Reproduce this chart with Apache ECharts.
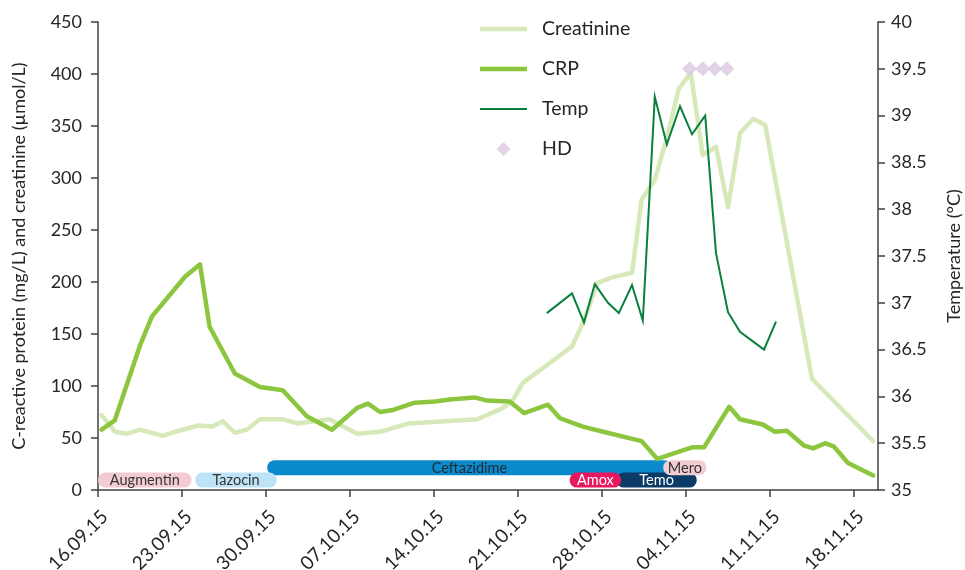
<!DOCTYPE html>
<html><head><meta charset="utf-8">
<script src="https://cdn.jsdelivr.net/npm/echarts@6/dist/echarts.min.js"></script>
<style>html,body{margin:0;padding:0;background:#fff}#c{width:965px;height:570px}</style>
</head><body><div id="c"></div>
<script>
// x = days since 16.09.15
const tickDays = [0, 7, 14, 21, 28, 35, 42, 49, 56, 63];
const tickLabels = ['16.09.15','23.09.15','30.09.15','07.10.15','14.10.15','21.10.15','28.10.15','04.11.15','11.11.15','18.11.15'];

const creatinineDays = [0.3,1.4,2.4,3.5,5.4,6.4,8.4,9.5,10.4,11.4,12.4,13.5,15.4,16.6,19.3,21.6,23.5,25.9,31.6,33.6,34.5,35.4,39.5,40.5,41.6,42.7,44.5,45.3,46.4,47.5,48.4,49.4,50.4,51.5,52.5,53.5,54.6,55.6,59.5,64.6];
const creatinineValues = [72,56,54,58,52,56,62,61,66,55,58,68,68,64,68,54,56,64,68,78,85,103,138,163,199,204,209,279,298,343,386,401,322,330,272,343,357,351,107,47];

const crpDays = [0.3,1.4,3.5,4.5,7.25,8.5,9.3,11.4,13.5,15.4,17.4,19.5,21.6,22.5,23.5,24.6,26.4,28.1,29.3,31.4,32.4,34.3,35.5,37.5,38.5,40.4,42.1,45.3,46.6,49.5,50.5,52.6,53.5,55.4,56.4,57.4,58.8,59.6,60.6,61.3,62.5,64.6];
const crpValues = [58,67,139,167,205,217,157,112,99,96,71,58,79,83,75,77,84,85,87,89,86,85,74,82,69,61,56,47,30,41,41,80,68,63,56,57,43,40,45,42,26,14];

const tempDays = [37.4,39.5,40.5,41.4,42.5,43.4,44.5,45.4,46.4,47.4,48.5,49.5,50.6,51.5,52.5,53.5,55.5,56.5];
const tempValues = [36.89,37.1,36.79,37.2,37.0,36.89,37.19,36.81,39.2,38.69,39.1,38.8,39.0,37.53,36.9,36.69,36.5,36.8];

const hdDays = [49.3, 50.4, 51.4, 52.4];
const hdValues = [39.5, 39.5, 39.5, 39.5];

// antibiotic courses (draw order: later on top)
const drugNames = ['Ceftazidime','Augmentin','Tazocin','Temo','Amox','Mero'];
const drugStart = [14.1, 0.0, 8.1, 43.2, 39.3, 47.1];
const drugEnd   = [47.8, 7.8, 14.9, 49.9, 43.6, 50.7];
const drugLane  = [1, 0, 0, 0, 0, 1];

// styling
const drugFill = {Ceftazidime:'#0A8ACB', Augmentin:'#F3CCD3', Tazocin:'#BEE3F6', Temo:'#0B3B66', Amox:'#E8185F', Mero:'#F3CCD3'};
const drugText = {Ceftazidime:'#1f2a33', Augmentin:'#333333', Tazocin:'#333333', Temo:'#ffffff', Amox:'#ffffff', Mero:'#333333'};
const laneY = [9.5, 21.5];
const laneH = 15;

const FONT = 'Lato, "Open Sans", sans-serif';
const TXT = '#262626';
const AX = '#404040';

const zip = (a, b) => a.map((v, i) => [v, b[i]]);

const chart = echarts.init(document.getElementById('c'), null, {renderer: 'canvas'});
chart.setOption({
  backgroundColor: '#ffffff',
  animation: false,
  textStyle: {fontFamily: FONT},
  grid: {left: 98, right: 87, top: 22, bottom: 80, outerBoundsMode: 'none', containLabel: false},
  legend: {
    orient: 'vertical', left: 475, top: 14,
    itemWidth: 47, itemHeight: 14, itemGap: 20,
    textStyle: {fontSize: 19.5, color: TXT, fontFamily: FONT, padding: [0, 0, 0, 10]},
    data: [
      {name: 'Creatinine', icon: 'path://M0,0L47,0L47,4.5L0,4.5Z'},
      {name: 'CRP', icon: 'path://M0,0L47,0L47,4.5L0,4.5Z'},
      {name: 'Temp', icon: 'path://M0,0L47,0L47,2L0,2Z'},
      {name: 'HD', icon: 'path://M6,0L12,6L6,12L0,6Z'}
    ]
  },
  xAxis: {
    type: 'value', min: 0, max: 65, interval: 7,
    splitLine: {show: false},
    axisLine: {lineStyle: {color: AX, width: 1.5}},
    axisTick: {show: true, length: 7, lineStyle: {color: AX, width: 1.5}, customValues: tickDays},
    axisLabel: {
      customValues: tickDays, rotate: 45, margin: 17, align: 'right', verticalAlign: 'top',
      fontSize: 19, color: TXT, fontFamily: FONT,
      formatter: v => { const i = tickDays.indexOf(Math.round(v)); return i >= 0 ? tickLabels[i] : ''; }
    }
  },
  yAxis: [
    {
      type: 'value', min: 0, max: 450, interval: 50, position: 'left',
      name: 'C-reactive protein (mg/L) and creatinine (µmol/L)',
      nameLocation: 'middle', nameGap: 70, nameRotate: 90,
      nameTextStyle: {fontSize: 18, color: TXT, fontFamily: FONT},
      splitLine: {show: false},
      axisLine: {show: true, lineStyle: {color: AX, width: 1.5}},
      axisTick: {show: true, length: 7, lineStyle: {color: AX, width: 1.5}},
      axisLabel: {margin: 16, fontSize: 18, color: TXT, fontFamily: FONT}
    },
    {
      type: 'value', min: 35, max: 40, interval: 0.5, position: 'right',
      name: 'Temperature (°C)',
      nameLocation: 'middle', nameGap: 67, nameRotate: 90,
      nameTextStyle: {fontSize: 18, color: TXT, fontFamily: FONT},
      splitLine: {show: false},
      axisLine: {show: true, lineStyle: {color: AX, width: 1.5}},
      axisTick: {show: true, length: 7, lineStyle: {color: AX, width: 1.5}},
      axisLabel: {margin: 13, fontSize: 18, color: TXT, fontFamily: FONT}
    }
  ],
  series: [
    {
      type: 'custom', name: 'drugs', xAxisIndex: 0, yAxisIndex: 0, z: 1,
      data: drugNames.map((n, i) => [drugStart[i], drugEnd[i], drugLane[i]]),
      renderItem: (params, api) => {
        const name = drugNames[params.dataIndex];
        const lane = api.value(2);
        const p0 = api.coord([api.value(0), laneY[lane]]);
        const p1 = api.coord([api.value(1), laneY[lane]]);
        return {
          type: 'group',
          children: [
            {type: 'rect', shape: {x: p0[0], y: p0[1] - laneH / 2, width: p1[0] - p0[0], height: laneH, r: laneH / 2},
             style: {fill: drugFill[name]}},
            {type: 'text', style: {text: name, x: (p0[0] + p1[0]) / 2, y: p0[1] + 0.5, align: 'center', verticalAlign: 'middle',
             fill: drugText[name], font: '14.5px ' + FONT}}
          ]
        };
      }
    },
    {
      type: 'line', name: 'Creatinine', yAxisIndex: 0, z: 3, symbol: 'none', silent: true,
      data: zip(creatinineDays, creatinineValues),
      lineStyle: {color: '#D7E9B9', width: 4.5, cap: 'round', join: 'round'},
      itemStyle: {color: '#D7E9B9'}
    },
    {
      type: 'line', name: 'CRP', yAxisIndex: 0, z: 4, symbol: 'none', silent: true,
      data: zip(crpDays, crpValues),
      lineStyle: {color: '#8CC63F', width: 4.5, cap: 'round', join: 'round'},
      itemStyle: {color: '#8CC63F'}
    },
    {
      type: 'line', name: 'Temp', yAxisIndex: 1, z: 5, symbol: 'none', silent: true,
      data: zip(tempDays, tempValues),
      lineStyle: {color: '#0A7F3F', width: 2, join: 'miter'},
      itemStyle: {color: '#0A7F3F'}
    },
    {
      type: 'scatter', name: 'HD', yAxisIndex: 1, z: 6, symbol: 'diamond', symbolSize: 15,
      data: zip(hdDays, hdValues),
      itemStyle: {color: '#DCC8E2'}
    }
  ]
});
</script>
</body></html>
